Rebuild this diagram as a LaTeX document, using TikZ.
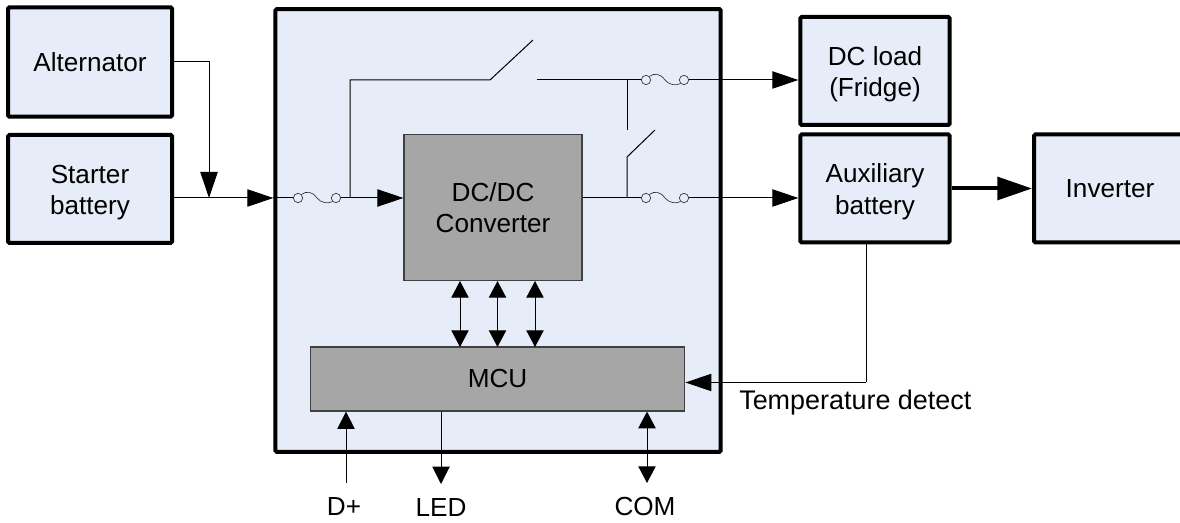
\documentclass[tikz,border=0pt]{standalone}
\usepackage{fontspec}
\setmainfont{Liberation Sans}
\usetikzlibrary{arrows.meta}
\definecolor{boxfill}{HTML}{E6EDF8}
\definecolor{blockfill}{HTML}{A6A6A6}
\newcommand{\lowline}{\rule{0pt}{19pt}}
\tikzset{
    outerbox/.style={draw=black,line width=3pt,fill=boxfill,rounded corners=1pt,inner sep=0pt,align=center},
    blockbox/.style={draw=black!75,line width=0.9pt,fill=blockfill,inner sep=0pt,align=center},
    wire/.style={line width=0.75pt,draw=black},
    bigtip/.style={-{Triangle[length=19.5pt,width=13pt]}},
    smalltip/.style={-{Triangle[length=13pt,width=13pt]}},
    bothtip/.style={{Triangle[length=12.5pt,width=13pt]}-{Triangle[length=12.5pt,width=13pt]}},
    fuseend/.style={circle,draw=black!80,line width=0.5pt,inner sep=0pt,minimum size=7pt},
    plain/.style={inner sep=0pt,align=center}
}
\begin{document}
\begin{tikzpicture}[x=0.75pt,y=-0.75pt,font=\fontsize{19.6pt}{23.5pt}\selectfont]
    \useasboundingbox (0,0) rectangle (1180,523);
    % outer blocks
    \node[outerbox,minimum width=123pt,minimum height=82pt] (alternator) at (90,62) {Alternator};
    \node[outerbox,minimum width=123pt,minimum height=81pt] (starter) at (90,189) {\lowline Starter\\battery};
    \node[outerbox,minimum width=334pt,minimum height=332pt] (charger) at (498,230.5) {};
    \node[outerbox,minimum width=112pt,minimum height=81pt] (dcload) at (875,71) {\lowline DC load\\(Fridge)};
    \node[outerbox,minimum width=112pt,minimum height=81pt] (auxbatt) at (875,188.5) {\lowline Auxiliary\\battery};
    \node[outerbox,minimum width=114pt,minimum height=81pt] (inverter) at (1110,188.5) {Inverter};
    % inner blocks
    \node[blockbox,minimum width=133.5pt,minimum height=110pt] (converter) at (493,207.5) {DC/DC\\Converter};
    \node[blockbox,minimum width=281pt,minimum height=48pt] (mcu) at (497.5,379) {MCU};
    % fuses
    \foreach \name/\x/\y in {fusein/298/198,fusedc/646/80,fuseaux/646/198}
    {
        \node[fuseend] (\name l) at (\x,\y) {};
        \node[fuseend] (\name r) at (\x+38,\y) {};
        \draw[line width=0.5pt,draw=black!80] (\name l.45) .. controls (\x+8,\y-7) and (\x+14,\y-7) .. (\x+19,\y)
            .. controls (\x+23,\y+5) and (\x+30,\y+6) .. (\name r.225);
    }
    % switches
    \coordinate (mainleft) at (350,80);
    \coordinate (mainblade) at (490,80);
    \coordinate (maintip) at (533,40);
    \coordinate (mainright) at (537,80);
    \coordinate (brancha) at (627,80);
    \coordinate (branchb) at (627,130);
    \coordinate (branchc) at (627,157);
    \coordinate (branchd) at (627,198);
    \coordinate (auxtip) at (655,130);
    \coordinate (takeoff) at (350,198);
    \coordinate (busin) at (209,198);
    \draw[wire] (takeoff) -- (mainleft) -- (mainblade) -- (maintip);
    \draw[wire] (mainright) -- (fusedcl.west);
    \draw[wire] (brancha) -- (branchb);
    \draw[wire] (branchd) -- (branchc) -- (auxtip);
    % power path
    \draw[wire,bigtip] (alternator.east) -| (busin);
    \draw[wire,bigtip] (starter.east |- busin) -- (charger.west |- busin);
    \draw[wire] (charger.west |- busin) -- (fuseinl.west);
    \draw[wire,bigtip] (fuseinr.east) -- (converter.west |- busin);
    \draw[wire] (converter.east |- busin) -- (fuseauxl.west);
    \draw[wire,bigtip] (fusedcr.east) -- (dcload.west |- fusedcr);
    \draw[wire,bigtip] (fuseauxr.east) -- (auxbatt.west |- fuseauxr);
    \draw[line width=3pt,-{Triangle[length=26pt,width=17pt]}] (auxbatt.east) -- (inverter.west);
    % bus to mcu
    \foreach \x in {460,497.5,535}
        \draw[wire,bothtip] (\x,281) -- (\x,347);
    % signals
    \node[plain] (dplus) at (344,507) {D+};
    \node[plain] (led) at (441,508) {LED};
    \node[plain] (com) at (645,507) {COM};
    \node[plain,anchor=west,font=\fontsize{20.2pt}{24pt}\selectfont] (tempdetect) at (739,402.5) {Temperature detect};
    \coordinate (dplusend) at (346,483);
    \coordinate (ledend) at (441,484);
    \coordinate (comend) at (647,483);
    \coordinate (tempturn) at (866,382.5);
    \draw[wire,smalltip] (dplusend) -- (dplusend |- mcu.south);
    \draw[wire,smalltip] (ledend |- mcu.south) -- (ledend);
    \draw[wire,bothtip] (comend) -- (comend |- mcu.south);
    \draw[wire] (auxbatt.south -| tempturn) -- (tempturn);
    \draw[wire,bigtip] (tempturn) -- (mcu.east |- tempturn);
\end{tikzpicture}
\end{document}
